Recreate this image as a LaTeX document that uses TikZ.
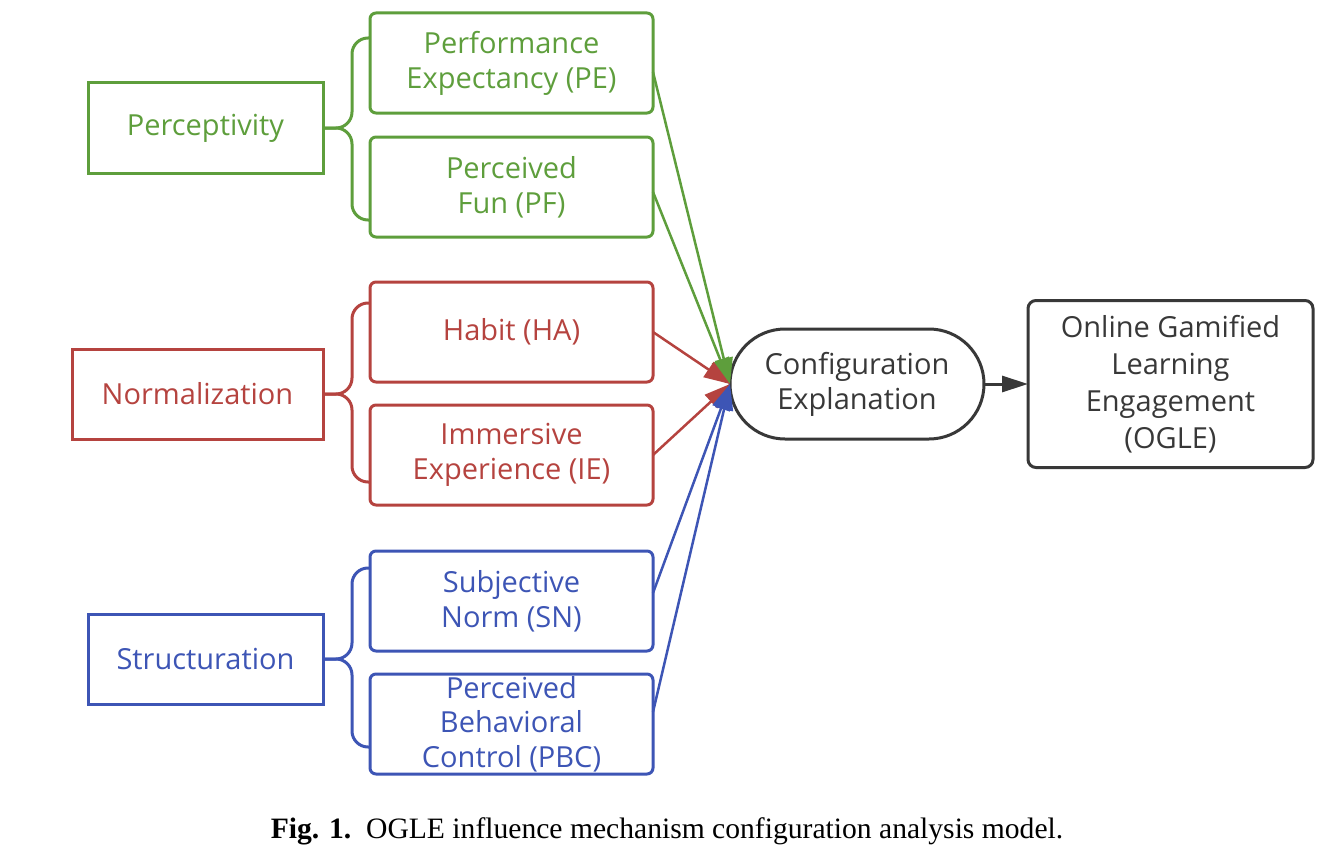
\documentclass[tikz,border=0pt]{standalone}
\usepackage{fontspec}
\setmainfont{Open Sans}
\newfontfamily\capfont{Liberation Serif}
\usetikzlibrary{arrows.meta,positioning}
\definecolor{grn}{HTML}{5E9E3C}
\definecolor{rd}{HTML}{B5433F}
\definecolor{blu}{HTML}{3D55B5}
\definecolor{drk}{HTML}{383838}

\begin{document}
\begin{tikzpicture}[x=1pt,y=-1pt,->,>={Triangle[length=26pt,width=18pt]},line width=2.5pt,
		font=\fontsize{29}{35}\selectfont]
		\tikzstyle{group}=[draw,line width=3pt,minimum width=235pt,minimum height=90pt,inner sep=0pt,outer sep=0pt]
		\tikzstyle{factor}=[draw,line width=3pt,rounded corners=6pt,minimum width=283pt,minimum height=100pt,
			align=center,inner sep=0pt,outer sep=0pt]
		\tikzstyle{brace}=[-,line width=3pt,rounded corners=16pt]
		
		\useasboundingbox (0,0) rectangle (1334,867);
		
		\node[factor,grn] (PE) at (511.5,63) {Performance\\Expectancy (PE)};
		\node[factor,grn] (PF) [below=24pt of PE] {Perceived\\Fun (PF)};
		\node[factor,rd] (HA) [below=45pt of PF] {Habit (HA)};
		\node[factor,rd] (IE) [below=23pt of HA] {Immersive\\Experience (IE)};
		\node[factor,blu] (SN) [below=46pt of IE] {Subjective\\Norm (SN)};
		\node[factor,blu,font=\fontsize{29}{34.5}\selectfont] (PBC) [below=23pt of SN] {Perceived\\Behavioral\\Control (PBC)};
		
		\node[group,grn,anchor=east] (perc) at (323,128) {Perceptivity};
		\node[group,rd,anchor=east,minimum width=251pt] (norm) at (323,394) {Normalization};
		\node[group,blu,anchor=east] (struc) at (323,659) {Structuration};
		
		\node[draw=drk,text=drk,line width=3pt,rounded corners=55pt,minimum width=254pt,minimum height=110pt,
			align=center,inner sep=0pt,outer sep=0pt] (cfg) at (857,384) {Configuration\\Explanation};
		\node[draw=drk,text=drk,line width=3pt,rounded corners=8pt,minimum width=285pt,minimum height=167pt,
			align=center,inner sep=0pt,outer sep=0pt,font=\fontsize{29}{37}\selectfont] (ogle) [right=44pt of cfg]
			{Online Gamified\\Learning\\Engagement\\(OGLE)};
		
		% braces
		\draw[brace,grn] (perc.east) -- ++(29,0) |- ([yshift=-25pt]PE.north west);
		\draw[brace,grn] (perc.east) -- ++(29,0) |- ([yshift=17pt]PF.south west);
		\draw[brace,rd] (norm.east) -- ++(29,0) |- ([yshift=-21pt]HA.north west);
		\draw[brace,rd] (norm.east) -- ++(29,0) |- ([yshift=23pt]IE.south west);
		\draw[brace,blu] (struc.east) -- ++(29,0) |- ([yshift=-17pt]SN.north west);
		\draw[brace,blu] (struc.east) -- ++(29,0) |- ([yshift=27pt]PBC.south west);
		
		\path 
		([yshift=-9pt]PE.east) edge[grn] (cfg.west)
		([yshift=-5pt]PF.east) edge[grn] (cfg.west)
		(HA.east) edge[rd] (cfg.west)
		(IE.east) edge[rd] (cfg.west)
		([yshift=8pt]SN.east) edge[blu] (cfg.west)
		([yshift=12pt]PBC.east) edge[blu] (cfg.west)
		(cfg) edge[drk,line width=3pt,>={Triangle[length=26pt,width=16pt]}] (ogle);
		
		\node[font=\capfont\fontsize{29.6}{35}\selectfont] (cap) at (667,831)
			{\textbf{Fig. 1.}\ \ OGLE influence mechanism configuration analysis model.};
	\end{tikzpicture}
\end{document}
